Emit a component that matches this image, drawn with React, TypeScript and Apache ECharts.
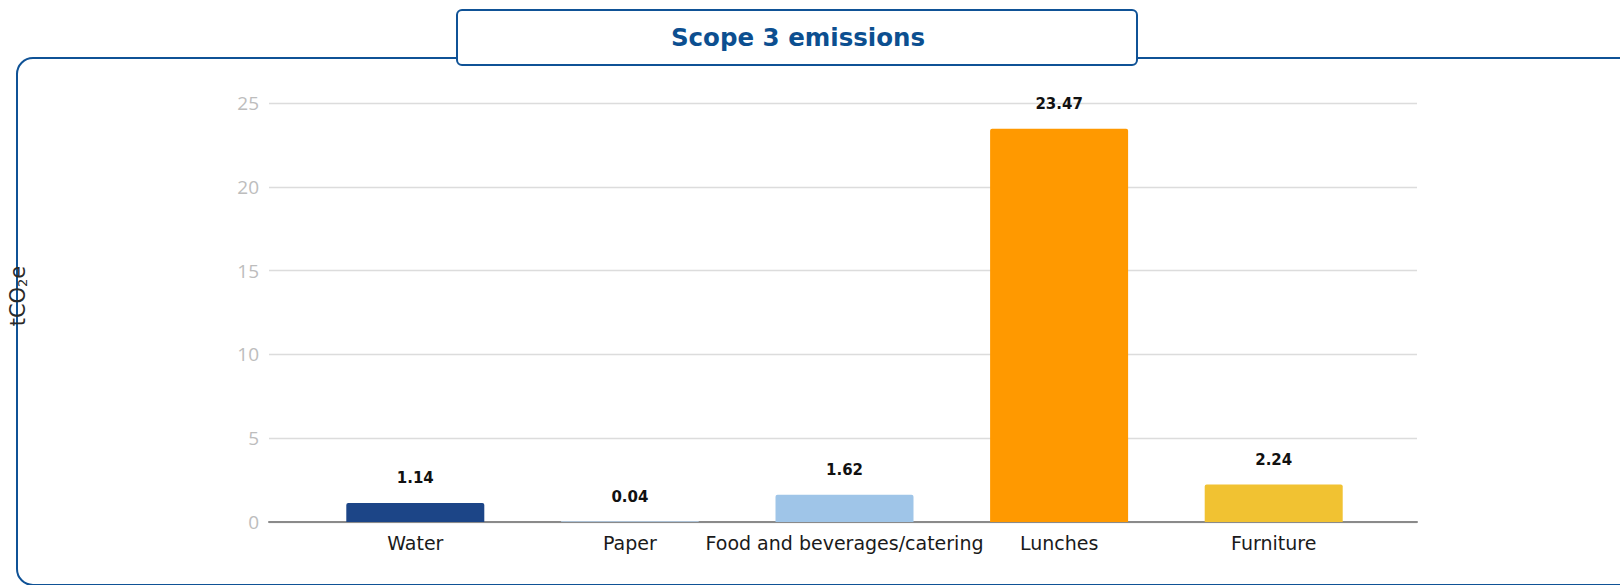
import React, { useEffect, useRef } from "react";
import * as echarts from "echarts";

// Scope 3 emission sources and their totals (tCO2e)
const CATEGORIES: string[] = ["Water", "Paper", "Food and beverages/catering", "Lunches", "Furniture"];
const EMISSIONS: number[] = [1.14, 0.04, 1.62, 23.47, 2.24];
const BAR_COLORS: string[] = ["#1c4587", "#b9d5ef", "#9fc5e8", "#ff9900", "#f1c232"];
const Y_TICKS: number[] = [0, 5, 10, 15, 20, 25];

const TITLE = "Scope 3 emissions";
const Y_NAME = "{a|tCO}{b|2}{a|e}";
const FRAME_BLUE = "#0f5296";
const FONT = "'DejaVu Sans', Verdana, sans-serif";

export default function App() {
  const ref = useRef<HTMLDivElement>(null);

  useEffect(() => {
    if (!ref.current) return;
    const chart = echarts.init(ref.current, undefined, { renderer: "svg" });
    const yMin = Y_TICKS[0];
    const yMax = Y_TICKS[Y_TICKS.length - 1];
    const yStep = Y_TICKS[1] - Y_TICKS[0];

    chart.setOption({
      animation: false,
      backgroundColor: "#ffffff",
      graphic: [
        // rounded frame around the plot
        {
          type: "rect",
          z: -10,
          silent: true,
          shape: { x: 17, y: 58, width: 1640, height: 527, r: 16 },
          style: { fill: "none", stroke: FRAME_BLUE, lineWidth: 2 },
        },
        // title tab sitting on the frame
        {
          type: "rect",
          z: 10,
          silent: true,
          shape: { x: 457, y: 10, width: 680, height: 55, r: 5 },
          style: { fill: "#ffffff", stroke: FRAME_BLUE, lineWidth: 2 },
        },
        {
          type: "text",
          z: 11,
          silent: true,
          x: 798,
          y: 37,
          style: {
            text: TITLE,
            fill: "#0c4f90",
            font: "bold 24.5px 'DejaVu Sans', sans-serif",
            align: "center",
            verticalAlign: "middle",
          },
        },
        // unit label, reading bottom to top
        {
          type: "text",
          z: 11,
          silent: true,
          x: 18,
          y: 296,
          rotation: Math.PI / 2,
          style: {
            text: Y_NAME,
            align: "center",
            verticalAlign: "middle",
            rich: {
              a: { fontFamily: FONT, fontSize: 21, fill: "#2a2a2a", color: "#2a2a2a" },
              b: {
                fontFamily: FONT,
                fontSize: 13,
                fill: "#2a2a2a",
                color: "#2a2a2a",
                verticalAlign: "bottom",
                padding: [9, 0, 0, 0],
              },
            },
          },
        },
      ],
      grid: [
        { left: 269, right: 203, top: 103, bottom: 63 },
        { left: 308, right: 239, top: 103, bottom: 63 },
      ],
      xAxis: [
        {
          gridIndex: 0,
          type: "category",
          data: CATEGORIES,
          axisLine: { lineStyle: { color: "#8a8a8a", width: 2 } },
          axisTick: { show: false },
          axisLabel: { show: false },
        },
        {
          gridIndex: 1,
          type: "category",
          data: CATEGORIES,
          axisLine: { show: false },
          axisTick: { show: false },
          axisLabel: {
            color: "#1a1a1a",
            fontFamily: FONT,
            fontSize: 19,
            margin: 11,
            interval: 0,
          },
        },
      ],
      yAxis: [
        {
          gridIndex: 0,
          type: "value",
          min: yMin,
          max: yMax,
          interval: yStep,
          axisLine: { show: false },
          axisTick: { show: false },
          axisLabel: {
            color: "#bdbdbd",
            fontFamily: "'Open Sans', sans-serif",
            fontSize: 19,
            margin: 10,
          },
          splitLine: { lineStyle: { color: "#dcdcdc", width: 1.3 } },
        },
        {
          gridIndex: 1,
          type: "value",
          min: yMin,
          max: yMax,
          interval: yStep,
          show: false,
          splitLine: { show: false },
        },
      ],
      series: [
        {
          type: "bar",
          xAxisIndex: 1,
          yAxisIndex: 1,
          barWidth: 138,
          data: EMISSIONS.map((v, i) => ({
            value: v,
            itemStyle: { color: BAR_COLORS[i], borderRadius: [2, 2, 0, 0] },
          })),
          label: {
            show: true,
            position: "top",
            distance: 17,
            color: "#111111",
            fontFamily: FONT,
            fontWeight: "bold",
            fontSize: 15,
            formatter: (p: any) => Number(p.value).toFixed(2),
          },
        },
      ],
    });

    return () => chart.dispose();
  }, []);

  return (
    <div
      ref={ref}
      style={{ position: "absolute", left: 0, top: 0, width: 1620, height: 585 }}
    />
  );
}
